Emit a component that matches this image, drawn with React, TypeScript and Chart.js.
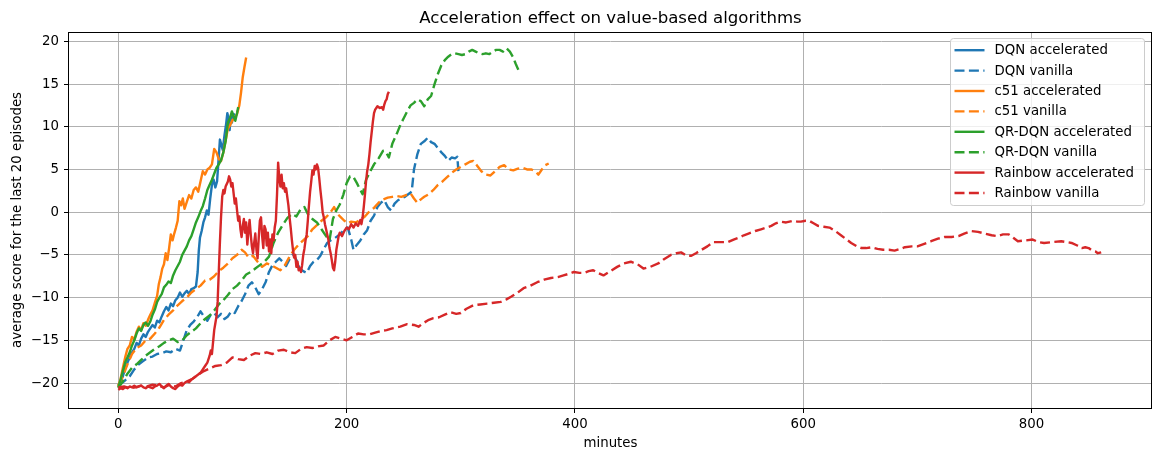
import React, { useEffect, useRef } from 'react';
import { Chart, registerables } from 'chart.js';

Chart.register(...registerables);

// ---------- tick labels ----------
const xTickValues = [0, 200, 400, 600, 800];
const yTickValues = [-20, -15, -10, -5, 0, 5, 10, 15, 20];

// ---------- DQN accelerated ----------
const dqnAccX = [0, 2, 4, 6, 8, 10, 12, 14, 16, 18, 20, 22, 24, 26, 28, 30, 32, 34, 36, 38, 40, 42, 44, 46, 48, 50, 52, 54, 56, 58, 60, 62, 64, 66, 68, 69.5, 70.5, 71.5, 73, 74.5, 76, 77.5, 79, 80.5, 82, 83.5, 85, 86.5, 88, 89, 90, 91.5, 93, 94.5, 95.5, 96.5, 97.5, 98.5, 99.5, 101, 102];
const dqnAccY = [-20.3, -19.8, -19.2, -18.3, -17.6, -17.0, -16.4, -16.0, -15.3, -15.6, -14.8, -14.3, -14.6, -14.0, -13.6, -13.2, -13.5, -12.7, -12.9, -12.2, -11.6, -11.1, -11.5, -10.7, -11.0, -10.3, -10.0, -9.4, -9.9, -9.5, -9.2, -9.6, -9.0, -8.9, -8.7, -7.0, -4.5, -3.0, -2.2, -1.2, -0.6, 0.2, -0.3, 1.6, 3.2, 3.8, 2.9, 3.6, 6.5, 8.5, 8.0, 7.3, 9.0, 10.4, 11.6, 11.0, 9.6, 11.2, 10.5, 11.5, 11.3];

// ---------- DQN vanilla ----------
const dqnVanX = [0, 5, 10, 14, 18, 22, 26, 30, 34, 38, 42, 46, 50, 54, 57, 60, 63, 66, 69, 72, 75, 78, 81, 84, 87, 90, 93, 96, 99, 102, 105, 108, 111, 114, 117, 120, 123, 126, 129, 132, 135, 138, 141, 144, 147, 150, 153, 156, 159, 162, 165, 168, 171, 174, 177, 180, 183, 186, 189, 192, 195, 198, 201, 204, 206, 209, 212, 215, 218, 221, 224, 227, 230, 233, 236, 239, 242, 245, 248, 251, 254, 257, 259, 262, 265, 268, 271, 274, 277, 280, 283, 286, 289, 292, 295, 297, 298];
const dqnVanY = [-20.3, -19.8, -19.2, -18.4, -17.8, -17.4, -17.0, -16.9, -16.6, -16.5, -16.3, -16.4, -16.0, -16.2, -15.0, -13.8, -13.2, -12.8, -12.3, -11.6, -12.2, -12.7, -12.0, -11.8, -12.3, -11.9, -12.5, -12.2, -11.6, -11.8, -11.0, -10.4, -9.6, -8.6, -8.2, -8.8, -9.6, -9.0, -8.2, -7.0, -6.2, -5.8, -5.4, -5.8, -6.3, -5.5, -4.9, -5.6, -6.6, -6.9, -7.1, -6.3, -5.8, -5.6, -5.1, -4.3, -3.6, -3.3, -3.1, -2.8, -2.5, -2.0, -1.8, -3.2, -4.4, -3.8, -3.3, -2.6, -2.1, -1.0, -0.4, 0.6, 1.1, 1.4, 0.6, 0.2, 1.0, 1.4, 1.6, 1.8, 2.1, 2.4, 5.0, 6.8, 8.0, 8.3, 8.7, 8.2, 8.0, 7.5, 7.0, 6.6, 6.0, 6.4, 6.3, 6.5, 4.6];

// ---------- c51 accelerated ----------
const c51AccX = [0, 2, 4, 6, 8, 10, 12, 14, 16, 18, 20, 22, 24, 26, 28, 30, 32, 34, 35.5, 37, 38.5, 40, 41.5, 43, 44.5, 46, 47.5, 49, 50.5, 52, 53.5, 55, 56.5, 58, 60, 62, 64, 66, 68, 70, 72, 74, 76, 78, 80, 82, 84, 86, 88, 90, 92, 94, 96, 98, 100, 102, 104, 106, 107.5, 109, 110.5, 112];
const c51AccY = [-20.4, -19.5, -18.2, -17.0, -16.0, -15.6, -14.6, -14.9, -14.0, -13.4, -13.8, -13.0, -13.3, -12.6, -12.0, -11.5, -10.6, -9.8, -8.4, -7.6, -6.6, -6.1, -4.8, -5.6, -4.2, -2.6, -3.3, -2.5, -1.8, -1.0, 1.3, 0.8, 1.6, 0.4, 1.2, 2.0, 1.6, 2.6, 2.9, 2.4, 3.6, 4.8, 4.4, 5.0, 5.2, 5.6, 7.4, 7.0, 6.2, 6.0, 7.0, 8.4, 9.8, 10.2, 10.8, 11.0, 11.5, 12.5, 14.0, 15.8, 17.0, 18.1];

// ---------- c51 vanilla ----------
const c51VanX = [0, 4, 8, 12, 16, 20, 24, 28, 32, 36, 40, 44, 48, 52, 56, 60, 64, 68, 72, 76, 80, 84, 88, 92, 96, 100, 104, 108, 111, 114, 118, 122, 126, 130, 134, 138, 142, 146, 150, 154, 158, 162, 166, 170, 174, 178, 182, 186, 189, 192, 195, 198, 201, 204, 208, 212, 216, 220, 224, 228, 232, 236, 240, 244, 248, 252, 256, 259, 262, 265, 268, 272, 276, 280, 284, 288, 292, 296, 300, 304, 308, 311, 314, 318, 322, 326, 330, 334, 338, 342, 346, 350, 354, 358, 362, 366, 368, 371, 374, 377];
const c51VanY = [-20.3, -19.2, -17.8, -16.6, -15.9, -15.6, -15.0, -14.8, -14.2, -13.5, -12.6, -12.0, -11.5, -10.9, -10.4, -10.0, -9.4, -9.0, -8.6, -8.0, -7.9, -7.5, -6.9, -6.5, -6.0, -5.4, -5.0, -4.4, -4.7, -5.3, -5.1, -5.8, -6.4, -6.0, -6.2, -6.5, -6.8, -6.2, -5.2, -4.4, -3.8, -3.3, -2.8, -2.0, -1.5, -1.0, -0.6, 0.0, 0.6, -0.2, -0.6, -1.0, -1.3, -1.1, -1.2, -0.9, -0.5, 0.1, 0.5, 1.1, 1.5, 1.7, 1.8, 1.9, 1.8, 2.0, 2.2, 1.6, 1.1, 1.5, 1.8, 2.1, 2.6, 3.2, 3.6, 4.1, 4.6, 5.0, 5.3, 5.6, 5.9, 6.0, 5.5, 4.8, 4.4, 4.3, 4.8, 5.3, 5.5, 5.0, 4.9, 5.1, 5.2, 5.0, 5.0, 4.7, 4.4, 5.0, 5.5, 5.7];

// ---------- QR-DQN accelerated ----------
const qrAccX = [0, 2, 4, 6, 8, 10, 12, 14, 16, 18, 20, 22, 24, 26, 28, 30, 32, 34, 36, 38, 40, 42, 44, 46, 48, 50, 52, 54, 56, 58, 60, 62, 64, 66, 68, 70, 72, 74, 76, 78, 80, 82, 84, 86, 88, 90, 92, 94, 96, 98, 99.5, 101, 102.5, 104, 105];
const qrAccY = [-20.5, -19.6, -18.6, -17.6, -17.0, -16.4, -15.6, -15.0, -14.2, -13.6, -13.9, -13.2, -12.9, -13.3, -12.8, -12.0, -11.4, -10.5, -10.0, -9.6, -8.8, -8.5, -8.1, -8.3, -7.4, -6.8, -6.3, -5.8, -5.0, -4.5, -4.0, -3.3, -2.8, -2.0, -1.2, -0.6, 0.1, 0.7, 1.6, 2.6, 3.2, 3.8, 4.5, 5.2, 5.6, 6.1, 7.0, 8.3, 10.5, 11.1, 11.8, 11.2, 10.7, 11.6, 12.3];

// ---------- QR-DQN vanilla ----------
const qrVanX = [0, 4, 8, 12, 16, 20, 24, 28, 32, 36, 40, 44, 48, 52, 56, 60, 64, 68, 72, 76, 80, 84, 88, 92, 96, 100, 104, 108, 112, 116, 120, 124, 128, 132, 136, 140, 144, 148, 152, 156, 160, 163, 166, 170, 174, 178, 182, 185, 188, 191, 194, 197, 200, 203, 206, 209, 212, 214, 217, 220, 224, 228, 232, 235, 237, 240, 244, 247, 250, 253, 256, 259, 262, 265, 268, 271, 274, 277, 280, 283, 286, 289, 292, 295, 298, 301, 304, 307, 310, 313, 316, 319, 322, 325, 328, 331, 334, 337, 340, 343, 346, 348, 350, 351];
const qrVanY = [-20.6, -19.8, -18.9, -18.2, -17.8, -17.3, -16.8, -16.4, -16.0, -15.7, -15.3, -15.0, -14.8, -15.2, -15.0, -14.4, -14.0, -13.6, -13.0, -12.5, -12.1, -11.5, -10.8, -10.3, -9.7, -9.0, -8.6, -8.0, -7.3, -7.0, -6.6, -6.2, -5.8, -5.2, -3.6, -2.4, -1.5, -0.7, -0.2, -0.5, 0.4, 0.6, -0.2, -0.8, -1.2, -2.0, -2.8, -3.3, -0.8, 0.2, 0.9, 2.0, 3.4, 4.2, 4.1, 3.4, 2.6, 2.1, 3.8, 4.6, 5.6, 6.3, 7.2, 6.9, 6.4, 8.0, 9.2, 10.2, 11.0, 11.8, 12.5, 12.8, 13.2, 13.0, 12.4, 13.2, 13.6, 15.0, 16.2, 17.2, 17.8, 18.2, 18.5, 18.6, 18.5, 18.4, 18.5, 18.8, 19.0, 18.8, 18.6, 18.5, 18.6, 18.5, 18.8, 19.0, 19.0, 18.8, 19.2, 18.8, 18.1, 17.4, 16.8, 16.5];

// ---------- Rainbow accelerated ----------
const rainAccX = [0, 2, 4, 6, 8, 10, 12, 14, 16, 18, 20, 22, 24, 26, 28, 30, 32, 34, 36, 38, 40, 42, 44, 46, 48, 50, 52, 54, 56, 58, 60, 62, 64, 66, 68, 70, 72, 74, 76, 78, 80, 81, 82, 83, 84, 85, 86, 87, 88, 89, 90, 91, 92, 93, 94, 95, 96, 97, 98, 99, 100, 101, 102, 103, 104, 105, 106, 107, 108, 109, 110, 111, 112, 113, 114, 115, 116, 117, 118, 119, 120, 121, 122, 123, 124, 125, 126, 127, 128, 129, 130, 131, 132, 133, 134, 135, 136, 137, 138, 139, 140, 141, 142, 143, 144, 145, 146, 147, 148, 149, 150, 151, 152, 153, 154, 155, 156, 157, 158, 159, 160, 161, 162, 163, 164, 165, 166, 167, 168, 169, 170, 171, 172, 173, 174, 175, 176, 177, 178, 179, 180, 181, 182, 183, 184, 185, 186, 187, 188, 189, 190, 191, 192, 193, 194, 196, 198, 200, 202, 204, 206, 208, 210, 212, 213, 214, 215, 216, 217, 218, 219, 220, 221, 222, 223, 224, 225, 227, 229, 231, 232, 233, 234, 235, 236, 237];
const rainAccY = [-20.8, -20.6, -20.7, -20.5, -20.6, -20.4, -20.5, -20.3, -20.5, -20.4, -20.3, -20.5, -20.6, -20.4, -20.5, -20.6, -20.4, -20.3, -20.1, -20.4, -20.6, -20.3, -20.1, -20.4, -20.6, -20.7, -20.4, -20.2, -20.3, -20.0, -19.8, -19.9, -19.6, -19.4, -19.2, -19.0, -18.8, -18.4, -18.0, -17.6, -16.8, -16.2, -16.6, -15.2, -13.8, -13.0, -12.2, -10.5, -7.0, -3.5, -0.5, 1.8, 2.6, 2.2, 3.0, 3.3, 3.6, 4.2, 3.8, 3.0, 3.4, 2.2, 1.0, 1.6, 0.2, -1.0, -0.5, -2.0, -2.9, -1.6, -0.8, -2.4, -1.2, -3.8, -2.2, -0.9, -2.6, -4.0, -4.8, -3.6, -2.5, -4.4, -5.4, -3.0, -1.0, -0.6, -2.8, -4.2, -1.6, -2.0, -3.9, -2.4, -4.6, -3.2, -4.8, -2.6, -3.3, -1.8, -1.0, 2.0, 5.8, 4.0, 3.0, 4.4, 2.8, 3.4, 2.4, 2.8, 1.8, 0.8, -0.6, -1.8, -3.2, -4.4, -5.3, -5.0, -6.4, -5.8, -6.8, -6.6, -7.0, -6.2, -5.0, -4.3, -3.3, -2.6, -1.0, 0.8, 2.4, 3.6, 4.9, 4.4, 5.4, 5.0, 5.6, 5.2, 4.0, 2.6, 1.4, 0.0, -0.6, -1.4, -2.0, -2.6, -3.2, -4.2, -4.8, -5.6, -6.5, -6.8, -5.8, -4.4, -3.6, -2.8, -2.4, -2.8, -2.2, -1.8, -2.0, -1.4, -1.8, -1.3, -1.6, -0.9, -1.4, -0.6, 0.6, 2.0, 3.6, 4.8, 5.6, 6.8, 8.2, 9.4, 10.6, 11.6, 12.0, 12.4, 12.2, 12.3, 12.0, 12.6, 13.0, 13.2, 13.8, 14.1];

// ---------- Rainbow vanilla ----------
const rainVanX = [0, 5, 10, 15, 20, 25, 30, 35, 40, 45, 50, 55, 60, 65, 70, 75, 80, 85, 90, 95, 100, 105, 110, 115, 120, 125, 130, 135, 140, 145, 150, 155, 160, 165, 170, 175, 180, 185, 190, 195, 200, 205, 210, 215, 220, 225, 230, 235, 240, 247, 253, 259, 263, 267, 272, 276, 281, 286, 291, 296, 300, 305, 311, 317, 323, 329, 335, 340, 344, 350, 355, 361, 367, 373, 379, 385, 390, 395, 399, 404, 408, 412, 416, 420, 425, 431, 437, 443, 449, 455, 460, 466, 473, 478, 484, 489, 493, 498, 502, 506, 511, 516, 521, 528, 534, 539, 543, 548, 552, 558, 563, 568, 572, 576, 580, 585, 591, 595, 598, 602, 605, 609, 613, 618, 623, 628, 633, 638, 642, 647, 651, 655, 660, 665, 670, 675, 680, 685, 689, 695, 700, 706, 712, 718, 724, 730, 736, 741, 747, 753, 759, 765, 770, 775, 780, 784, 788, 795, 801, 806, 811, 818, 826, 831, 835, 840, 844, 847, 850, 853, 856, 858, 861];
const rainVanY = [-20.5, -20.4, -20.6, -20.5, -20.3, -20.4, -20.2, -20.3, -20.5, -20.2, -20.4, -20.0, -19.8, -19.5, -19.0, -18.6, -18.3, -18.0, -17.9, -17.6, -17.0, -17.2, -17.3, -16.8, -16.5, -16.6, -16.4, -16.6, -16.2, -16.1, -16.4, -16.5, -16.0, -15.8, -15.9, -15.7, -15.6, -15.0, -14.6, -14.8, -15.0, -14.6, -14.2, -14.3, -14.3, -14.1, -13.9, -13.8, -13.6, -13.4, -13.1, -13.2, -13.4, -13.0, -12.6, -12.4, -12.3, -12.0, -11.7, -11.9, -11.8, -11.3, -10.9, -10.8, -10.7, -10.6, -10.5, -10.2, -9.9, -9.4, -8.9, -8.6, -8.2, -7.9, -7.7, -7.6, -7.4, -7.2, -7.0, -7.1, -7.1, -6.9, -6.8, -7.1, -7.4, -6.9, -6.4, -6.0, -5.8, -6.1, -6.6, -6.4, -6.0, -5.5, -5.0, -4.8, -4.7, -5.1, -5.1, -4.8, -4.4, -4.0, -3.5, -3.5, -3.5, -3.2, -3.0, -2.7, -2.5, -2.2, -2.0, -1.8, -1.6, -1.3, -1.1, -1.2, -1.0, -1.1, -1.1, -1.0, -1.0, -1.3, -1.6, -1.7, -1.8, -2.2, -2.7, -3.2, -3.6, -4.0, -4.2, -4.2, -4.1, -4.3, -4.4, -4.4, -4.5, -4.3, -4.1, -4.0, -4.0, -3.7, -3.4, -3.1, -2.9, -2.9, -2.8, -2.5, -2.2, -2.3, -2.5, -2.7, -2.8, -2.6, -2.6, -3.0, -3.4, -3.3, -3.2, -3.5, -3.6, -3.5, -3.4, -3.5, -3.6, -3.9, -4.2, -4.1, -4.2, -4.5, -4.6, -4.8, -4.7];

// ---------- series meta ----------
const seriesLabels = ['DQN accelerated', 'DQN vanilla', 'c51 accelerated', 'c51 vanilla', 'QR-DQN accelerated', 'QR-DQN vanilla', 'Rainbow accelerated', 'Rainbow vanilla'];
const seriesColors = ['#1f77b4', '#1f77b4', '#ff7f0e', '#ff7f0e', '#2ca02c', '#2ca02c', '#d62728', '#d62728'];
const seriesDashed = [false, true, false, true, false, true, false, true];
const seriesXs = [dqnAccX, dqnVanX, c51AccX, c51VanX, qrAccX, qrVanX, rainAccX, rainVanX];
const seriesYs = [dqnAccY, dqnVanY, c51AccY, c51VanY, qrAccY, qrVanY, rainAccY, rainVanY];

const FONT = '"DejaVu Sans", sans-serif';
const DASH = [10, 4.4];
const LINE_W = 2.4;

const spinesPlugin = {
  id: 'spines',
  afterDatasetsDraw(chart: any) {
    const { ctx, chartArea: a } = chart;
    ctx.save();
    ctx.strokeStyle = '#000';
    ctx.lineWidth = 1;
    ctx.strokeRect(Math.round(a.left) - 0.5, Math.round(a.top) + 0.5, Math.round(a.right) - Math.round(a.left), Math.round(a.bottom) - Math.round(a.top));
    ctx.restore();
  },
};

const legendPlugin = {
  id: 'insideLegend',
  afterDraw(chart: any) {
    const { ctx } = chart;
    const bx = 950.5, by = 38.5, bw = 194, bh = 167, r = 3;
    ctx.save();
    ctx.beginPath();
    ctx.moveTo(bx + r, by);
    ctx.lineTo(bx + bw - r, by);
    ctx.quadraticCurveTo(bx + bw, by, bx + bw, by + r);
    ctx.lineTo(bx + bw, by + bh - r);
    ctx.quadraticCurveTo(bx + bw, by + bh, bx + bw - r, by + bh);
    ctx.lineTo(bx + r, by + bh);
    ctx.quadraticCurveTo(bx, by + bh, bx, by + bh - r);
    ctx.lineTo(bx, by + r);
    ctx.quadraticCurveTo(bx, by, bx + r, by);
    ctx.closePath();
    ctx.fillStyle = 'rgba(255,255,255,0.8)';
    ctx.fill();
    ctx.strokeStyle = '#cccccc';
    ctx.lineWidth = 1;
    ctx.stroke();
    chart.data.datasets.forEach((d: any, i: number) => {
      const y = by + 11.7 + i * 20.4;
      ctx.beginPath();
      ctx.strokeStyle = d.borderColor;
      ctx.lineWidth = LINE_W;
      ctx.setLineDash(d.borderDash || []);
      ctx.moveTo(bx + 4, y);
      ctx.lineTo(bx + 34, y);
      ctx.stroke();
      ctx.setLineDash([]);
      ctx.fillStyle = '#000';
      ctx.font = '13.33px ' + FONT;
      ctx.textBaseline = 'middle';
      ctx.textAlign = 'left';
      ctx.fillText(d.label, bx + 44, y + 0.5);
    });
    ctx.restore();
  },
};

const fmt = (v: number) => (v < 0 ? '\u2212' + Math.abs(v) : String(v));

export default function App() {
  const ref = useRef<HTMLCanvasElement | null>(null);
  useEffect(() => {
    if (!ref.current) return;
    const datasets = seriesLabels.map((label, i) => ({
      label,
      data: seriesXs[i].map((x, k) => ({ x, y: seriesYs[i][k] })),
      borderColor: seriesColors[i],
      backgroundColor: seriesColors[i],
      borderWidth: LINE_W,
      borderDash: seriesDashed[i] ? DASH : [],
      borderJoinStyle: 'round' as const,
      pointRadius: 0,
      tension: 0,
      fill: false,
      order: seriesLabels.length - i,
    }));
    const chart = new Chart(ref.current, {
      type: 'line',
      data: { datasets },
      plugins: [spinesPlugin, legendPlugin],
      options: {
        animation: false,
        responsive: false,
        devicePixelRatio: 1,
        layout: { padding: { left: 0, right: 1, top: 0, bottom: 0 } },
        plugins: {
          legend: { display: false },
          tooltip: { enabled: false },
          title: {
            display: true,
            fullSize: false,
            text: 'Acceleration effect on value-based algorithms',
            color: '#000',
            font: { family: FONT, size: 16.6, weight: 'normal' },
            padding: { top: 9, bottom: 3.1 },
          },
        },
        scales: {
          x: {
            type: 'linear',
            min: -43.2,
            max: 905.5,
            afterFit: (s: any) => { s.height = 45; },
            afterBuildTicks: (s: any) => { s.ticks = xTickValues.map((v) => ({ value: v })); },
            ticks: { color: '#000', font: { family: FONT, size: 13.33 }, padding: 4, maxRotation: 0, callback: (v: any) => fmt(Number(v)) },
            grid: { color: '#b0b0b0', lineWidth: 1, tickLength: 5, tickColor: '#000', tickWidth: 1 },
            border: { display: false },
            title: { display: true, text: 'minutes', color: '#000', font: { family: FONT, size: 13.33 }, padding: { top: 0, bottom: 1 } },
          },
          y: {
            type: 'linear',
            min: -22.92,
            max: 21.09,
            afterFit: (s: any) => { s.width = 69; },
            afterBuildTicks: (s: any) => { s.ticks = yTickValues.map((v) => ({ value: v })); },
            ticks: { color: '#000', font: { family: FONT, size: 13.33 }, padding: 5, callback: (v: any) => fmt(Number(v)) },
            grid: { color: '#b0b0b0', lineWidth: 1, tickLength: 5, tickColor: '#000', tickWidth: 1 },
            border: { display: false },
            title: { display: true, text: 'average score for the last 20 episodes', color: '#000', font: { family: FONT, size: 13.33 }, padding: { top: 10, bottom: 0 } },
          },
        },
      },
    });
    return () => chart.destroy();
  }, []);
  return (
    <div style={{ position: 'absolute', left: 0, top: 0, width: 1153, height: 453, background: '#fff' }}>
      <canvas ref={ref} width={1153} height={453} />
    </div>
  );
}
